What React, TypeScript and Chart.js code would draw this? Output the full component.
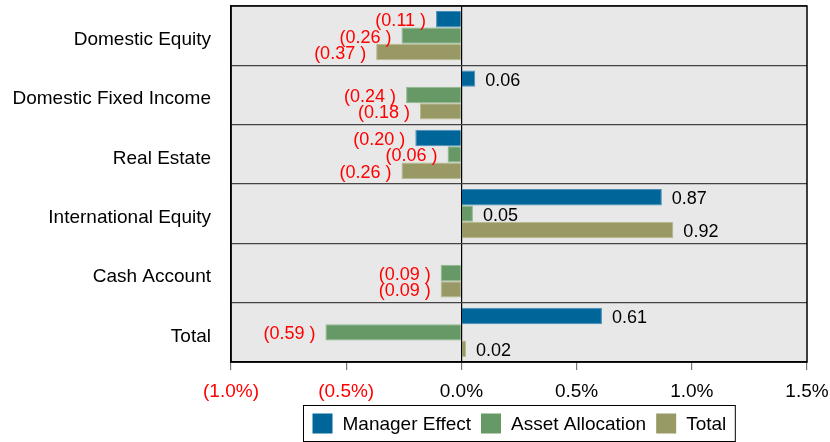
import React, { useEffect, useRef } from "react";
import { Chart, registerables } from "chart.js";

Chart.register(...registerables);

const categories = [
  "Domestic Equity",
  "Domestic Fixed Income",
  "Real Estate",
  "International Equity",
  "Cash Account",
  "Total",
];
const managerEffect = [-0.11, 0.06, -0.2, 0.87, null, 0.61];
const assetAllocation = [-0.26, -0.24, -0.06, 0.05, -0.09, -0.59];
const totalEffect = [-0.37, -0.18, -0.26, 0.92, -0.09, 0.02];
const xTicks = [-1.0, -0.5, 0.0, 0.5, 1.0, 1.5];

const FONT = "'Liberation Sans', Arial, sans-serif";
const RED = "#ff0000";

const bgPlugin = {
  id: "bgPlugin",
  beforeDraw(chart: any) {
    const { ctx, chartArea: a } = chart;
    ctx.save();
    ctx.fillStyle = "#e8e8e8";
    ctx.fillRect(a.left, a.top, a.right - a.left, a.bottom - a.top);
    ctx.restore();
  },
  afterDraw(chart: any) {
    const { ctx, chartArea: a } = chart;
    ctx.save();
    ctx.strokeStyle = "#000";
    ctx.lineWidth = 1.5;
    ctx.strokeRect(a.left, a.top, a.right - a.left, a.bottom - a.top);
    ctx.restore();

    // legend
    ctx.save();
    ctx.font = `19px ${FONT}`;
    const ds = chart.data.datasets;
    const pad = 9, sq = 20, gapT = 10, gapI = 10;
    let w = pad * 2;
    const widths = ds.map((d: any) => ctx.measureText(d.label).width);
    ds.forEach((d: any, i: number) => {
      w += sq + gapT + widths[i] + (i < ds.length - 1 ? gapI : 0);
    });
    const cx = (a.left + a.right) / 2;
    const left = Math.round(cx - w / 2) + 0.5;
    const top = 405.5;
    const h = 36;
    ctx.fillStyle = "#fff";
    ctx.fillRect(left, top, w, h);
    ctx.strokeStyle = "#000";
    ctx.lineWidth = 1;
    ctx.strokeRect(left, top, w, h);
    let x = left + pad;
    const cy = top + h / 2;
    ds.forEach((d: any, i: number) => {
      ctx.fillStyle = d.backgroundColor;
      ctx.fillRect(x, cy - sq / 2, sq, sq);
      x += sq + gapT;
      ctx.fillStyle = "#000";
      ctx.textAlign = "left";
      ctx.textBaseline = "middle";
      ctx.fillText(d.label, x, cy + 1);
      x += widths[i] + gapI;
    });
    ctx.restore();
  },
};

const labelPlugin = {
  id: "labelPlugin",
  afterDatasetsDraw(chart: any) {
    const { ctx } = chart;
    ctx.save();
    ctx.font = `18px ${FONT}`;
    ctx.textBaseline = "middle";
    chart.data.datasets.forEach((d: any, di: number) => {
      const meta = chart.getDatasetMeta(di);
      meta.data.forEach((el: any, i: number) => {
        const v = d.data[i];
        if (v === null || v === undefined) return;
        if (v < 0) {
          ctx.fillStyle = RED;
          ctx.textAlign = "right";
          ctx.fillText(`(${Math.abs(v).toFixed(2)} )`, el.x - 10, el.y + 2);
        } else {
          ctx.fillStyle = "#000";
          ctx.textAlign = "left";
          ctx.fillText(v.toFixed(2), el.x + 10, el.y + 2);
        }
      });
    });
    ctx.restore();
  },
};

export default function App() {
  const ref = useRef<HTMLCanvasElement | null>(null);
  useEffect(() => {
    if (!ref.current) return;
    const chart = new Chart(ref.current, {
      type: "bar",
      data: {
        labels: categories,
        datasets: [
          { label: "Manager Effect", data: managerEffect, backgroundColor: "#006699", borderColor: "#4a8fba" },
          { label: "Asset Allocation", data: assetAllocation, backgroundColor: "#669966", borderColor: "#8db88d" },
          { label: "Total", data: totalEffect, backgroundColor: "#999966", borderColor: "#b8b88d" },
        ],
      },
      options: {
        indexAxis: "y",
        responsive: false,
        animation: false,
        maintainAspectRatio: false,
        layout: { padding: { top: 6, right: 23, bottom: 0, left: 0 } },
        datasets: { bar: { categoryPercentage: 0.83, barPercentage: 1, borderWidth: 1 } },
        plugins: { legend: { display: false }, tooltip: { enabled: false } },
        scales: {
          x: {
            min: -1.0,
            max: 1.5,
            afterBuildTicks(scale: any) {
              scale.ticks = xTicks.map((v) => ({ value: v }));
            },
            afterFit(scale: any) {
              scale.height = 80;
              scale.paddingLeft = 0;
              scale.paddingRight = 0;
              scale.paddingTop = 0;
              scale.paddingBottom = 0;
            },
            border: { display: true, color: "#000", width: 1.5 },
            grid: {
              color: (c: any) => (c.tick && c.tick.value === 0 ? "#000" : "transparent"),
              tickColor: "#777",
              tickLength: 8,
              lineWidth: 1.2,
            },
            ticks: {
              padding: 10,
              font: { family: FONT, size: 19 },
              color: (c: any) => (c.tick && c.tick.value < 0 ? RED : "#000"),
              callback: (v: any) =>
                v < 0 ? `(${Math.abs(v).toFixed(1)}%)` : `${Number(v).toFixed(1)}%`,
              maxRotation: 0,
            },
          },
          y: {
            afterFit(scale: any) {
              scale.width = 231;
              scale.paddingLeft = 0;
              scale.paddingRight = 0;
              scale.paddingTop = 0;
              scale.paddingBottom = 0;
            },
            border: { display: true, color: "#000", width: 1.5 },
            grid: { color: "#444", drawTicks: false, offset: true, lineWidth: 1.2 },
            ticks: {
              padding: 20,
              labelOffset: 4,
              font: { family: FONT, size: 19 },
              color: "#000",
            },
          },
        },
      },
      plugins: [bgPlugin, labelPlugin],
    });
    return () => chart.destroy();
  }, []);
  return (
    <div style={{ position: "fixed", left: 0, top: 0, width: 830, height: 442, background: "#fff" }}>
      <canvas ref={ref} width={830} height={442} />
    </div>
  );
}
